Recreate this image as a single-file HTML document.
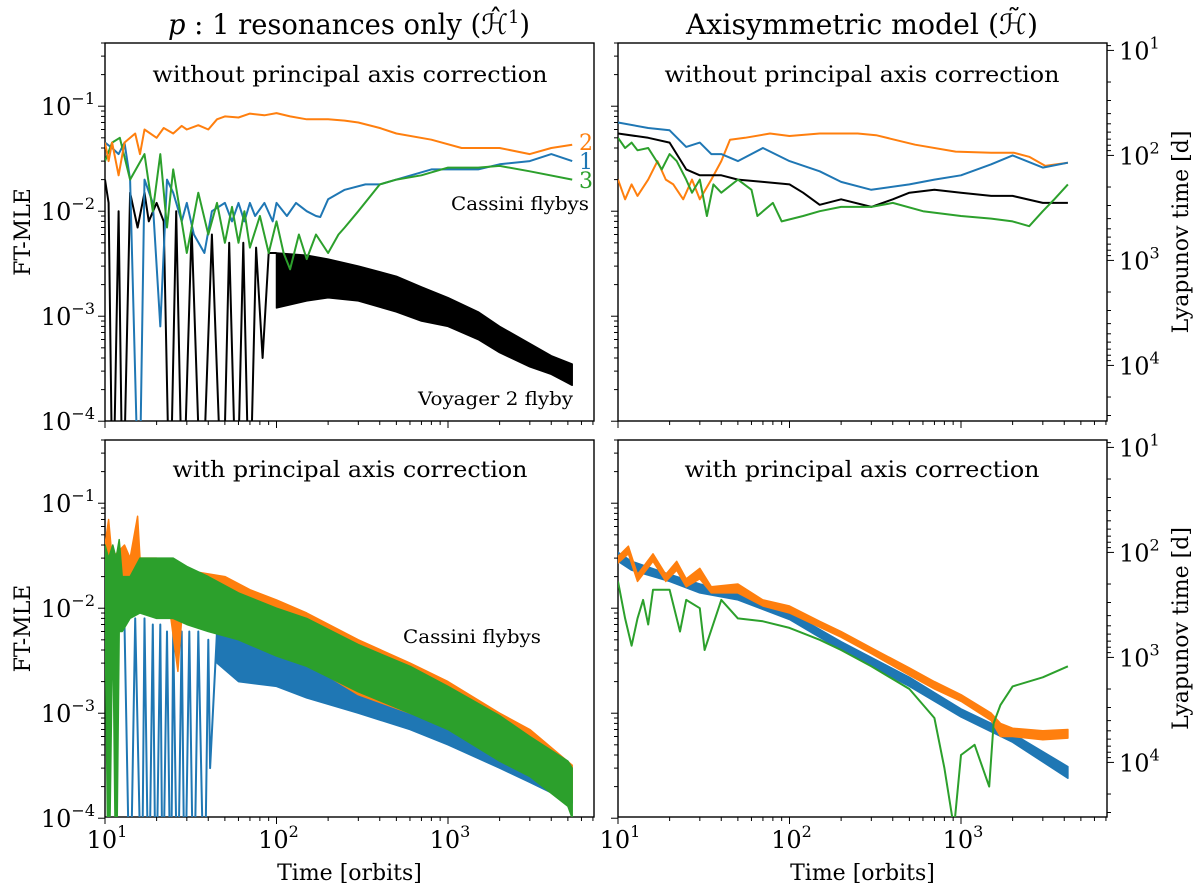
<!DOCTYPE html>
<html><head><meta charset="utf-8"><style>
body{margin:0;background:#fff}
svg{display:block;font-family:"DejaVu Serif","Liberation Serif",serif}
</style></head><body>
<svg id="fig" width="1200" height="888" viewBox="0 0 1200 888" xmlns="http://www.w3.org/2000/svg">
<defs>
<clipPath id="cTL"><rect x="105" y="43" width="489" height="378"/></clipPath>
<clipPath id="cTR"><rect x="618" y="43" width="489" height="378"/></clipPath>
<clipPath id="cBL"><rect x="105" y="440" width="489" height="377"/></clipPath>
<clipPath id="cBR"><rect x="618" y="440" width="489" height="377"/></clipPath>
</defs>
<g id="root"></g>
</svg>
<script>
// ---------- DATA ----------
// Top-left: p:1 resonances, without correction
const tlOrangeT=[10,10.5,11,12,13,15,16,17,20,22,25,28,30,35,40,45,50,60,70,85,100,120,150,200,250,300,400,500,800,1200,2000,3000,4000,5300];
const tlOrangeV=[0.045,0.03,0.045,0.022,0.045,0.055,0.035,0.06,0.05,0.062,0.055,0.065,0.06,0.066,0.06,0.075,0.08,0.078,0.085,0.082,0.086,0.08,0.075,0.075,0.073,0.07,0.062,0.055,0.048,0.04,0.04,0.035,0.04,0.043];
const tlBlueT=[10,11,12,13,14,15.8,17,19,21,23,25,28,30,33,38,42,50,55,60,65,70,75,85,95,100,115,130,150,170,180,200,250,330,400,500,800,1000,1500,2000,3000,4000,5300];
const tlBlueV=[0.045,0.04,0.035,0.045,0.02,0.00001,0.02,0.012,0.0008,0.02,0.015,0.008,0.012,0.006,0.004,0.01,0.012,0.008,0.012,0.008,0.012,0.009,0.012,0.008,0.012,0.009,0.012,0.01,0.009,0.0088,0.013,0.016,0.018,0.018,0.02,0.025,0.025,0.025,0.028,0.03,0.035,0.03];
const tlGreenT=[10,11,12.2,14,17,19,21,23,25,30,35,40,45,50,55,60,65,70,80,90,100,110,120,135,150,170,200,230,250,300,400,500,700,1000,1500,2000,3000,5300];
const tlGreenV=[0.03,0.045,0.05,0.02,0.035,0.01,0.035,0.007,0.025,0.004,0.015,0.006,0.012,0.005,0.011,0.005,0.01,0.0045,0.009,0.004,0.008,0.004,0.0028,0.006,0.0035,0.006,0.004,0.006,0.007,0.01,0.018,0.02,0.022,0.026,0.026,0.027,0.024,0.02];
const tlBlackT=[10,10.5,11.1,12,12.7,14,15.5,17,18,20,22,23.9,26,28.4,32,36.6,42,48.5,53,58.6,64,69.6,76,83,90,100];
const tlBlackV=[0.02,0.012,0.00001,0.01,0.00001,0.015,0.007,0.015,0.008,0.012,0.008,0.00001,0.01,0.00001,0.007,0.00001,0.006,0.00001,0.005,0.00001,0.005,0.00001,0.0045,0.0004,0.004,0.004];
const tlBlackBandT=[100,150,200,300,500,700,1000,1500,2000,3000,4000,5300];
const tlBlackBandHi=[0.004,0.0038,0.0035,0.003,0.0024,0.0019,0.0015,0.0011,0.0008,0.00055,0.00042,0.00035];
const tlBlackBandLo=[0.0012,0.0014,0.0015,0.0014,0.0011,0.0009,0.0008,0.0006,0.00045,0.00033,0.00028,0.00022];
// Top-right: axisymmetric, without correction
const trOrangeT=[10,11,12,13,15,17,19,21,24,27,30,35,40,45,55,77,100,150,250,320,540,930,1500,2040,2500,3100,4200];
const trOrangeV=[0.02,0.013,0.018,0.014,0.02,0.03,0.02,0.018,0.013,0.02,0.013,0.02,0.03,0.048,0.05,0.055,0.052,0.055,0.055,0.053,0.043,0.037,0.036,0.036,0.033,0.027,0.029];
const trBlueT=[10,15,20,25,30,35,40,50,70,100,150,200,300,500,700,1000,1500,2000,3000,4200];
const trBlueV=[0.07,0.062,0.059,0.041,0.045,0.035,0.035,0.03,0.04,0.03,0.024,0.019,0.016,0.018,0.02,0.022,0.028,0.034,0.026,0.029];
const trBlackT=[10,15,20,25,30,40,50,70,100,120,150,200,300,400,500,700,1000,1500,2000,3000,4200];
const trBlackV=[0.055,0.05,0.045,0.025,0.022,0.022,0.02,0.019,0.018,0.015,0.0115,0.013,0.011,0.013,0.015,0.016,0.015,0.014,0.014,0.012,0.012];
const trGreenT=[10,11,12,13,15,18,20,22,25,27,30,33,36,40,50,60,65,80,90,120,150,200,300,400,600,1000,1500,2000,2500,3000,3500,4200];
const trGreenV=[0.05,0.04,0.045,0.038,0.04,0.025,0.035,0.03,0.02,0.015,0.02,0.009,0.018,0.015,0.02,0.016,0.009,0.012,0.008,0.009,0.01,0.011,0.011,0.012,0.01,0.009,0.0085,0.008,0.0072,0.01,0.013,0.018];
// Bottom-left: p:1 resonances, with correction
const blOrangeT=[10,10.5,11,12,13,14,15.5,16,18,20,24,26.6,28,35,50,70,100,150,300,600,1000,2000,3000,5300];
const blOrangeHi=[0.04,0.07,0.03,0.035,0.04,0.03,0.075,0.03,0.03,0.03,0.025,0.025,0.025,0.022,0.02,0.015,0.012,0.009,0.005,0.003,0.002,0.001,0.0007,0.00032];
const blOrangeLo=[0.02,0.02,0.015,0.015,0.018,0.012,0.012,0.012,0.01,0.01,0.009,0.0025,0.008,0.008,0.007,0.005,0.004,0.003,0.0015,0.001,0.0008,0.0004,0.0003,0.00015];
const blGreenT=[10,10.5,11.1,11.6,12.1,12.6,14,16,20,25,30,40,60,100,150,300,600,1000,2000,3000,5000,5300];
const blGreenHi=[0.04,0.03,0.04,0.03,0.045,0.02,0.02,0.03,0.03,0.03,0.025,0.02,0.014,0.01,0.008,0.0045,0.0028,0.0018,0.00095,0.0006,0.00035,0.0003];
const blGreenLo=[0.01,0.00001,0.008,0.00001,0.006,0.006,0.008,0.009,0.008,0.008,0.007,0.006,0.005,0.0035,0.0028,0.0016,0.001,0.0007,0.00035,0.00025,0.00013,0.0001];
const blBlueT=[10,11,12,13,14,15,16.4,17,18,19,19.8,21,21.7,23,24.2,25,26.5,28,29.2,31,32.9,35,38,40,41,45,60,100,150,300,600,1000,2000,3000,5300];
const blBlueV=[0.01,0.008,0.007,0.007,0.00001,0.008,0.00001,0.008,0.00001,0.007,0.00001,0.007,0.00001,0.006,0.00001,0.006,0.00001,0.006,0.00001,0.006,0.00001,0.006,0.00001,0.005,0.0003,0.006,0.005,0.0045,0.0035,0.0022,0.0015,0.0011,0.0006,0.00045,0.00028];
const blBlueLoT=[45,60,100,150,300,600,1000,2000,3000,5300];
const blBlueLo=[0.003,0.002,0.0018,0.0014,0.001,0.0007,0.0005,0.0003,0.00022,0.00014];
// Bottom-right: axisymmetric, with correction
const brBlueT=[10,12,20,30,50,100,200,500,1000,2000,4200];
const brBlueHi=[0.034,0.028,0.021,0.017,0.014,0.0092,0.0048,0.0022,0.0011,0.00064,0.00031];
const brBlueLo=[0.028,0.023,0.018,0.014,0.012,0.0078,0.004,0.0018,0.00092,0.00053,0.00024];
const brOrangeT=[10,11.5,13,16,19,22,25,30,35,50,70,100,150,200,300,500,700,1000,1500,1700,2000,3000,4200];
const brOrangeHi=[0.031,0.039,0.021,0.033,0.021,0.028,0.019,0.024,0.016,0.017,0.012,0.0105,0.0075,0.006,0.0042,0.0027,0.002,0.0015,0.001,0.0008,0.00072,0.00068,0.0007];
const brOrangeLo=[0.027,0.033,0.018,0.028,0.018,0.023,0.016,0.019,0.014,0.014,0.0105,0.009,0.0066,0.0053,0.0037,0.0023,0.0017,0.0013,0.00085,0.0006,0.0006,0.00056,0.00058];
const brGreenT=[10,11,12,13,14,15,16,20,23,25,30,32,40,50,70,100,150,200,300,500,700,800,910,1000,1200,1460,1550,1700,2000,3000,4200];
const brGreenV=[0.018,0.008,0.0044,0.008,0.012,0.007,0.015,0.015,0.006,0.012,0.01,0.004,0.012,0.008,0.0075,0.0065,0.005,0.004,0.0028,0.0017,0.0009,0.0003,0.00008,0.0004,0.0005,0.0002,0.0008,0.0012,0.0018,0.0022,0.0028];
// axis ticks
const xMajor=[10,100,1000];
const xMajorLbl=["1","2","3"];
const yMajor=[1e-1,1e-2,1e-3,1e-4];
const yMajorLbl=["−1","−2","−3","−4"];
const lyapMajor=[10,100,1000,10000];
const lyapLbl=["1","2","3","4"];
const LYAP_K=3.4; // Lyapunov time = K / MLE

// ---------- HELPERS ----------
const NS="http://www.w3.org/2000/svg";
const root=document.getElementById('root');
const COL={blue:"#1f77b4",orange:"#ff7f0e",green:"#2ca02c",black:"#000"};
const P={
 TL:{x0:105,x1:594,y0:43,y1:421,clip:"cTL"},
 TR:{x0:618,x1:1107,y0:43,y1:421,clip:"cTR"},
 BL:{x0:105,x1:594,y0:440,y1:817,clip:"cBL"},
 BR:{x0:618,x1:1107,y0:440,y1:817,clip:"cBR"}};
const DEC=171.5, YDEC=105, YTOP=Math.log10(0.4);
function sx(p,t){return p.x0+(Math.log10(t)-1)*DEC;}
function sy(p,v){return p.y0+(YTOP-Math.log10(Math.max(v,1e-6)))*YDEC;}
function mk(tag,attrs,parent){const e=document.createElementNS(NS,tag);for(const k in attrs)e.setAttribute(k,attrs[k]);(parent||root).appendChild(e);return e;}
function line(p,T,V,color,name,w){
 const g=mk('g',{'clip-path':'url(#'+p.clip+')'});
 const pts=T.map((t,i)=>sx(p,t).toFixed(1)+','+sy(p,V[i]).toFixed(1)).join(' ');
 const el=mk('polyline',{points:pts,fill:'none',stroke:color,'stroke-width':w||2,'stroke-linejoin':'round'},g);
 
 
}
function band(p,T,H,L,color,name){
 const g=mk('g',{'clip-path':'url(#'+p.clip+')'});
 let pts=T.map((t,i)=>sx(p,t).toFixed(1)+','+sy(p,H[i]).toFixed(1));
 pts=pts.concat(T.map((t,i)=>sx(p,t).toFixed(1)+','+sy(p,L[i]).toFixed(1)).reverse());
 const el=mk('polygon',{points:pts.join(' '),fill:color,stroke:color,'stroke-width':1.5,'stroke-linejoin':'round'},g);
 
 
}
function sup(x,y,base,exp,anchor,size,name){
 const t=mk('text',{x:x,y:y,'font-size':size||24,'text-anchor':anchor||'middle',fill:'#000'});
 
 
 t.appendChild(document.createTextNode(base));
 const s=mk('tspan',{dy:-11,'font-size':16},t);s.textContent=exp;
 return t;
}
function frame(p,name){
 const r=mk('rect',{x:p.x0,y:p.y0,width:p.x1-p.x0,height:p.y1-p.y0,fill:'none',stroke:'#000','stroke-width':1.4});
 
 
 for(let d=1;d<=3;d++){for(let m=1;m<=9;m++){const t=m*Math.pow(10,d);const x=sx(p,t);if(x>p.x1)continue;
  mk('line',{x1:x,x2:x,y1:p.y1,y2:p.y1+(m===1?7:4),stroke:'#000','stroke-width':1});}}
 for(let d=-4;d<=-1;d++){for(let m=1;m<=9;m++){const v=m*Math.pow(10,d);const y=sy(p,v);if(y<p.y0-0.5)continue;
  mk('line',{x1:p.x0,x2:p.x0-(m===1?7:4),y1:y,y2:y,stroke:'#000','stroke-width':1});}}
}
function lyapAxis(p,name){
 for(let d=0;d<=4;d++){for(let m=1;m<=9;m++){const L=m*Math.pow(10,d);const y=sy(p,LYAP_K/L);if(y<p.y0-0.5||y>p.y1+0.5)continue;
  mk('line',{x1:p.x1,x2:p.x1+(m===1?7:4),y1:y,y2:y,stroke:'#000','stroke-width':1});}}
 lyapMajor.forEach((L,i)=>{sup(p.x1+12,sy(p,LYAP_K/L)+9,"10",lyapLbl[i],'start',24,name+'-tick-label');});
 const t=mk('text',{x:0,y:0,'font-size':22,'text-anchor':'middle',transform:`translate(1188,${(p.y0+p.y1)/2}) rotate(-90)`});
 t.textContent="Lyapunov time [d]";
 
 
}
function txt(x,y,s,size,anchor,name,color,len){
 const a={x:x,y:y,'font-size':size,'text-anchor':anchor||'middle',fill:color||'#000'};
 if(len){a.textLength=len;a.lengthAdjust='spacingAndGlyphs';}
 const t=mk('text',a);t.textContent=s;
 
 
 return t;
}

// ---------- FRAMES & AXES ----------
frame(P.TL,'panel-top-left');frame(P.TR,'panel-top-right');frame(P.BL,'panel-bottom-left');frame(P.BR,'panel-bottom-right');
[P.TL,P.BL].forEach((p,k)=>{
 yMajor.forEach((v,i)=>{sup(p.x0-10,sy(p,v)+9,"10",yMajorLbl[i],'end',24,'y-tick-label');});
 const t=mk('text',{x:0,y:0,'font-size':22,'text-anchor':'middle',transform:`translate(30,${(p.y0+p.y1)/2}) rotate(-90)`});
 t.textContent="FT-MLE";
 
 
});
[P.BL,P.BR].forEach(p=>{
 xMajor.forEach((v,i)=>{sup(sx(p,v)+2,848,"10",xMajorLbl[i],'middle',24,'x-tick-label');});
 txt((p.x0+p.x1)/2,880,"Time [orbits]",22,'middle','x-axis-title');
});
lyapAxis(P.TR,'lyapunov-axis-top');lyapAxis(P.BR,'lyapunov-axis-bottom');

// ---------- SERIES ----------
band(P.TL,tlBlackBandT,tlBlackBandHi,tlBlackBandLo,COL.black,'tl-black-band');
line(P.TL,tlBlackT,tlBlackV,COL.black,'tl-black-voyager');
line(P.TL,tlBlueT,tlBlueV,COL.blue,'tl-blue-1');
line(P.TL,tlGreenT,tlGreenV,COL.green,'tl-green-3');
line(P.TL,tlOrangeT,tlOrangeV,COL.orange,'tl-orange-2');

line(P.TR,trOrangeT,trOrangeV,COL.orange,'tr-orange');
line(P.TR,trBlueT,trBlueV,COL.blue,'tr-blue');
line(P.TR,trBlackT,trBlackV,COL.black,'tr-black');
line(P.TR,trGreenT,trGreenV,COL.green,'tr-green');

line(P.BL,blBlueT,blBlueV,COL.blue,'bl-blue-line');
band(P.BL,blBlueLoT,blBlueLoT.map(t=>{let i=blBlueT.indexOf(t);return blBlueV[i];}),blBlueLo,COL.blue,'bl-blue-band');
band(P.BL,blOrangeT,blOrangeHi,blOrangeLo,COL.orange,'bl-orange-band');
band(P.BL,blGreenT,blGreenHi,blGreenLo,COL.green,'bl-green-band');

band(P.BR,brBlueT,brBlueHi,brBlueLo,COL.blue,'br-blue-band');
band(P.BR,brOrangeT,brOrangeHi,brOrangeLo,COL.orange,'br-orange-band');
line(P.BR,brGreenT,brGreenV,COL.green,'br-green');

// ---------- TEXT ----------
const t1=txt(349,34,"",28,'middle','title-left',null,362);
const ip=mk('tspan',{'font-style':'italic'},t1);ip.textContent="p";
const r1=mk('tspan',{},t1);r1.textContent=" : 1 resonances only (ℋ̂";
const s1=mk('tspan',{dy:-11,'font-size':18},t1);s1.textContent="1";
const r2=mk('tspan',{dy:11},t1);r2.textContent=")";
txt(862,34,"Axisymmetric model (ℋ̃)",28,'middle','title-right',null,352);
txt(350,82,"without principal axis correction",22,'middle','annotation-tl',null,395);
txt(862,82,"without principal axis correction",22,'middle','annotation-tr',null,395);
txt(350,477,"with principal axis correction",22,'middle','annotation-bl',null,355);
txt(862,477,"with principal axis correction",22,'middle','annotation-br',null,355);
txt(589,210,"Cassini flybys",19,'end','cassini-label-top',null,138);
txt(573,405,"Voyager 2 flyby",19,'end','voyager-label',null,155);
txt(541,643,"Cassini flybys",19,'end','cassini-label-bottom',null,138);
txt(579,150,"2",22,'start','series-label-2',COL.orange);
txt(579,169,"1",22,'start','series-label-1',COL.blue);
txt(579,188,"3",22,'start','series-label-3',COL.green);
</script>
</body></html>
